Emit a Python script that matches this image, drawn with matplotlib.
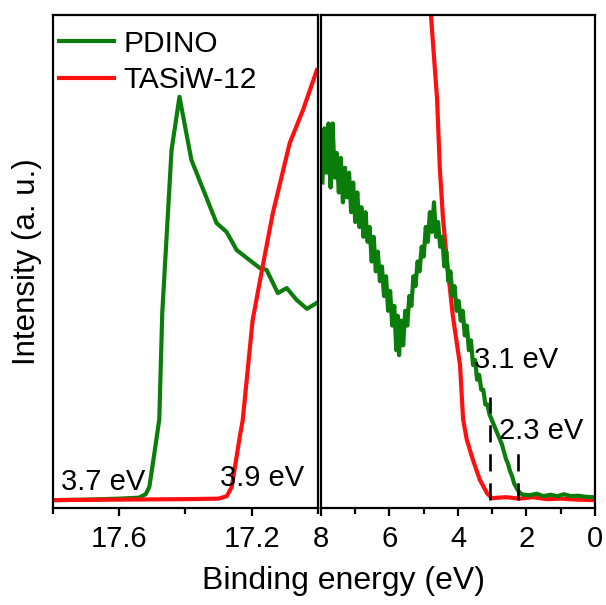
import matplotlib
matplotlib.use("Agg")
import matplotlib.pyplot as plt
from matplotlib.ticker import MultipleLocator

plt.rcParams["font.family"] = ["Liberation Sans", "DejaVu Sans"]

# Secondary-electron cutoff region (binding energy, eV)
cut_pdino_e = [17.80, 17.70, 17.60, 17.54, 17.52, 17.509, 17.494, 17.479, 17.47,
               17.442, 17.418, 17.382, 17.306, 17.276, 17.245, 17.176,
               17.155, 17.121, 17.094, 17.064, 17.033, 17.003]
cut_pdino_i = [0.016, 0.017, 0.019, 0.021, 0.028, 0.043, 0.11, 0.18, 0.396,
               0.726, 0.834, 0.706, 0.578, 0.560, 0.523, 0.487,
               0.483, 0.436, 0.446, 0.422, 0.404, 0.416]

cut_tasiw_e = [17.80, 17.60, 17.40, 17.30, 17.275, 17.26, 17.236, 17.227,
               17.197, 17.167, 17.136, 17.085, 17.045, 17.003]
cut_tasiw_i = [0.016, 0.017, 0.018, 0.019, 0.024, 0.043, 0.144, 0.178,
               0.381, 0.489, 0.598, 0.740, 0.807, 0.888]

# Valence band region (binding energy, eV)
vb_pdino_e = [7.96, 7.90, 7.84, 7.78, 7.72, 7.66, 7.60, 7.54, 7.48, 7.42,
              7.36, 7.30, 7.24, 7.18, 7.12, 7.06, 7.00, 6.94, 6.88, 6.82,
              6.76, 6.70, 6.64, 6.58, 6.52, 6.46, 6.40, 6.34, 6.28, 6.22,
              6.16, 6.10, 6.04, 5.98, 5.92, 5.86, 5.80, 5.76, 5.72, 5.66,
              5.60, 5.54, 5.48, 5.42, 5.36, 5.30, 5.24, 5.18, 5.12, 5.06,
              5.00, 4.94, 4.88, 4.82, 4.76, 4.70, 4.64, 4.58, 4.52, 4.46,
              4.40, 4.34, 4.28, 4.22, 4.16, 4.10, 4.04, 3.98, 3.92, 3.86,
              3.80, 3.74, 3.68, 3.62, 3.56, 3.50, 3.44, 3.38, 3.32, 3.26,
              3.20, 3.14, 3.08, 3.02, 2.96, 2.90, 2.84, 2.78, 2.72, 2.66,
              2.60, 2.54, 2.48, 2.42, 2.36, 2.30, 2.24, 2.18, 2.10, 1.90,
              1.70, 1.50, 1.30, 1.10, 0.90, 0.70, 0.50, 0.30, 0.10, 0.00]
vb_pdino_i = [0.66, 0.77, 0.68, 0.78, 0.65, 0.78, 0.67, 0.72, 0.64, 0.71,
              0.62, 0.69, 0.63, 0.68, 0.60, 0.66, 0.58, 0.64, 0.57, 0.61,
              0.55, 0.60, 0.54, 0.57, 0.50, 0.55, 0.48, 0.52, 0.46, 0.49,
              0.43, 0.47, 0.40, 0.44, 0.37, 0.41, 0.32, 0.39, 0.31, 0.38,
              0.33, 0.40, 0.37, 0.43, 0.41, 0.47, 0.45, 0.50, 0.48, 0.53,
              0.51, 0.57, 0.54, 0.60, 0.56, 0.62, 0.55, 0.58, 0.53, 0.55,
              0.49, 0.52, 0.46, 0.48, 0.43, 0.45, 0.40, 0.42, 0.38, 0.40,
              0.35, 0.37, 0.32, 0.34, 0.29, 0.30, 0.26, 0.27, 0.24, 0.24,
              0.21, 0.21, 0.19, 0.18, 0.17, 0.16, 0.15, 0.14, 0.13, 0.115,
              0.10, 0.09, 0.075, 0.065, 0.05, 0.042, 0.035, 0.030, 0.027, 0.026,
              0.029, 0.024, 0.027, 0.024, 0.028, 0.024, 0.025, 0.023, 0.022, 0.022]

vb_tasiw_e = [4.85, 4.79, 4.61, 4.53, 4.44, 4.32, 4.15, 3.94, 3.85, 3.74,
              3.56, 3.36, 3.15, 3.01, 2.60, 2.20, 1.81, 1.40, 1.00, 0.50, 0.00]
vb_tasiw_i = [1.10, 1.00, 0.83, 0.69, 0.59, 0.50, 0.39, 0.29, 0.18, 0.138,
              0.097, 0.057, 0.030, 0.020, 0.022, 0.019, 0.022, 0.018, 0.019, 0.017, 0.016]

# Onset values marked on the plot
onset_pdino_vb = 3.1
onset_tasiw_vb = 2.3

green = "#0b7d0b"
red = "#ff1010"
lw = 3.0

fig = plt.figure(figsize=(6.06, 6.05), dpi=100)
ax1 = fig.add_axes([0.0875, 0.1603, 0.437, 0.815])
ax2 = fig.add_axes([0.5297, 0.1603, 0.452, 0.815])

ax1.plot(cut_pdino_e, cut_pdino_i, color=green, lw=lw, label="PDINO")
ax1.plot(cut_tasiw_e, cut_tasiw_i, color=red, lw=lw, label="TASiW-12")
ax1.set_xlim(17.8, 17.0)

ax2.plot(vb_tasiw_e, vb_tasiw_i, color=red, lw=lw)
ax2.plot(vb_pdino_e, vb_pdino_i, color=green, lw=lw)
ax2.set_xlim(8, 0)

dash = (0, (6.5, 4.5))
ax2.plot([onset_pdino_vb - 0.03, onset_pdino_vb - 0.03], [0.016, 0.225],
         color="black", lw=1.9, linestyle=dash)
ax2.plot([onset_tasiw_vb - 0.05, onset_tasiw_vb - 0.05], [0.016, 0.113],
         color="black", lw=1.9, linestyle=dash)

fs = 21
ax1.text(17.776, 0.053, "3.7 eV", fontsize=fs, va="center", ha="left")
ax1.text(17.297, 0.061, "3.9 eV", fontsize=fs, va="center", ha="left")
ax2.text(3.53, 0.30, "%.1f eV" % onset_pdino_vb, fontsize=fs, va="center", ha="left")
ax2.text(2.80, 0.156, "%.1f eV" % onset_tasiw_vb, fontsize=fs, va="center", ha="left")

for ax in (ax1, ax2):
    ax.set_ylim(0, 1)
    ax.set_yticks([])
    for s in ax.spines.values():
        s.set_linewidth(1.6)
    ax.tick_params(axis="x", which="major", direction="out", length=6,
                   width=1.6, labelsize=fs, pad=6)
    ax.tick_params(axis="x", which="minor", direction="out", length=4, width=1.6)

ax1.xaxis.set_major_locator(MultipleLocator(0.4))
ax1.xaxis.set_minor_locator(MultipleLocator(0.2))
ax1.set_xticks([17.6, 17.2])
ax2.xaxis.set_major_locator(MultipleLocator(2))
ax2.xaxis.set_minor_locator(MultipleLocator(1))

ax1.legend(loc="upper left", bbox_to_anchor=(0.0, 0.982), frameon=False,
           fontsize=21.5, handlelength=1.85, handletextpad=0.3, borderpad=0.1,
           borderaxespad=0.1, labelspacing=0.28)

ax1.set_ylabel("Intensity (a. u.)", fontsize=22.5, labelpad=8)
fig.text(0.567, 0.04, "Binding energy (eV)", fontsize=23, ha="center", va="center")

fig.savefig("out.png", dpi=100)
